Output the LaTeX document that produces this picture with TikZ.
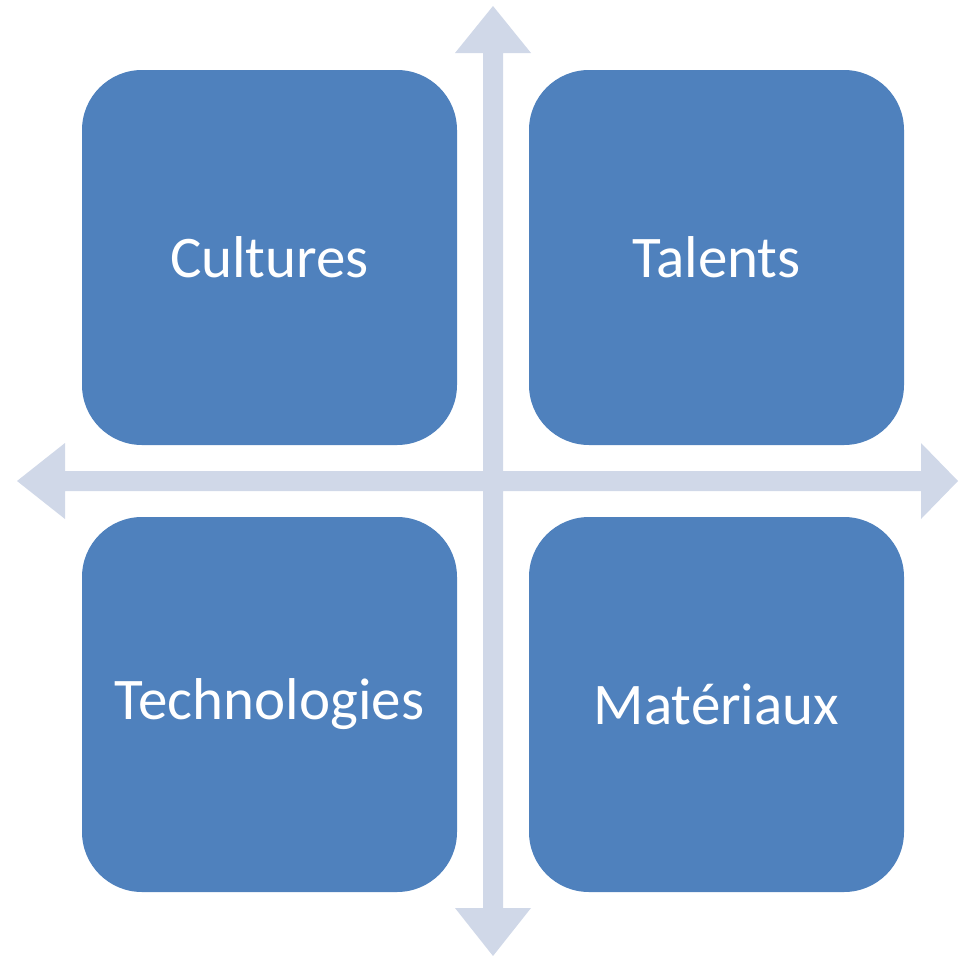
\documentclass[tikz,border=0pt]{standalone}
\usepackage{fontspec}
\setmainfont{Carlito}
\definecolor{boxblue}{HTML}{4F81BD}
\definecolor{arrowgrey}{HTML}{D0D8E8}
\begin{document}
\begin{tikzpicture}[x=1pt,y=-1pt,
  quad/.style={fill=boxblue,draw=none,rounded corners=60pt,minimum width=375pt,minimum height=375pt,text=white,font=\fontsize{59}{70}\selectfont,inner sep=0pt}]
\useasboundingbox (0,0) rectangle (959,956);
% cross arrows
\fill[arrowgrey] (493,6) -- (531,53) -- (503,53) -- (503,471) -- (921,471) -- (921,443) -- (958,481) -- (921,519) -- (921,491) -- (503,491) -- (503,908) -- (531,908) -- (493,956) -- (455,908) -- (483,908) -- (483,491) -- (65,491) -- (65,519) -- (17,481) -- (65,443) -- (65,471) -- (483,471) -- (483,53) -- (455,53) -- cycle;
\node[quad] (cult) at (269.5,257.5) {Cultures};
\node[quad] (tal) at (716.5,257.5) {Talents};
\node[quad] (tech) at (269.5,704.5) {Technologies};
\node[quad] (mat) at (716.5,704.5) {Matériaux};
\end{tikzpicture}
\end{document}
